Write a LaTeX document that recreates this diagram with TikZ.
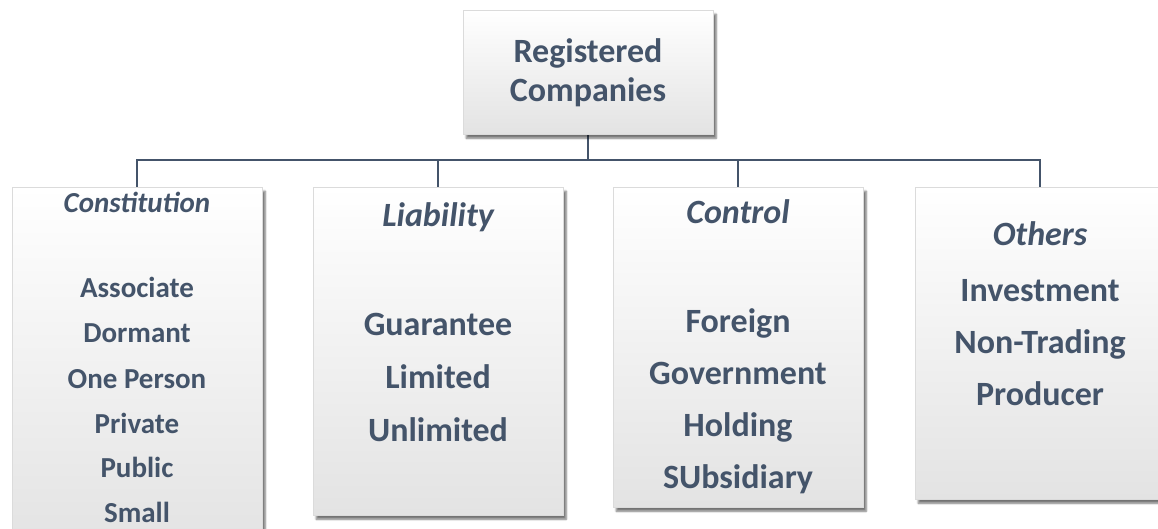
\documentclass[tikz,border=0pt]{standalone}
\usepackage{fontspec}
\setmainfont{Carlito}
\usetikzlibrary{shadows.blur}
\definecolor{ink}{HTML}{44546A}
\begin{document}
\begin{tikzpicture}[x=1pt,y=-1pt,
  card/.style={rectangle, anchor=north west, inner sep=0pt,
    top color=white, middle color=white, bottom color=black!11,
    draw=black!14, line width=0.4pt,
    blur shadow={shadow xshift=3pt, shadow yshift=-4pt, shadow blur steps=6, shadow opacity=55}},
  link/.style={draw=ink, line width=2.8pt},
  head/.style={anchor=base, text=ink, font=\bfseries\itshape\fontsize{34}{40}\selectfont},
  item/.style={anchor=base, text=ink, font=\bfseries\fontsize{34}{40}\selectfont},
  smallhead/.style={head, font=\bfseries\itshape\fontsize{29}{35}\selectfont},
  smallitem/.style={item, font=\bfseries\fontsize{29}{35}\selectfont}]
\useasboundingbox (0,0) rectangle (1158,529);

% connectors behind the boxes
\coordinate (topS) at (588,134);
\coordinate (c1) at (137,187);
\coordinate (c2) at (438,187);
\coordinate (c3) at (738,187);
\coordinate (c4) at (1040,187);
\draw[link] (topS) -- ++(0,26) -| (c1);
\draw[link] (topS) -- ++(0,26) -| (c2);
\draw[link] (topS) -- ++(0,26) -| (c3);
\draw[link] (topS) -- ++(0,26) -| (c4);

% boxes
\node[card, minimum width=250pt, minimum height=124pt] (top) at (463,10) {};
\node[card, minimum width=250pt, minimum height=360pt] (b1) at (12,187) {};
\node[card, minimum width=250pt, minimum height=328pt] (b2) at (313,187) {};
\node[card, minimum width=250pt, minimum height=320pt] (b3) at (613,187) {};
\node[card, minimum width=250pt, minimum height=312pt] (b4) at (915,187) {};

% root title
\node[item] (t1) at (588,63) {Registered};
\node[item] (t2) at (588,102) {Companies};

% constitution
\node[smallhead] (h1) at (137,213) {Constitution};
\node[smallitem] (a1) at (137,297) {Associate};
\node[smallitem] (a2) at (137,342) {Dormant};
\node[smallitem] (a3) at (137,388) {One Person};
\node[smallitem] (a4) at (137,433) {Private};
\node[smallitem] (a5) at (137,477) {Public};
\node[smallitem] (a6) at (137,522) {Small};

% liability
\node[head] (h2) at (438,227) {Liability};
\node[item] (l1) at (438,335) {Guarantee};
\node[item] (l2) at (438,388) {Limited};
\node[item] (l3) at (438,441) {Unlimited};

% control
\node[head] (h3) at (738,224) {Control};
\node[item] (k1) at (738,332) {Foreign};
\node[item] (k2) at (738,384) {Government};
\node[item] (k3) at (738,436) {Holding};
\node[item] (k4) at (738,488) {SUbsidiary};

% others
\node[head] (h4) at (1040,245) {Others};
\node[item] (o1) at (1040,301) {Investment};
\node[item] (o2) at (1040,353) {Non-Trading};
\node[item] (o3) at (1040,405) {Producer};
\end{tikzpicture}
\end{document}
